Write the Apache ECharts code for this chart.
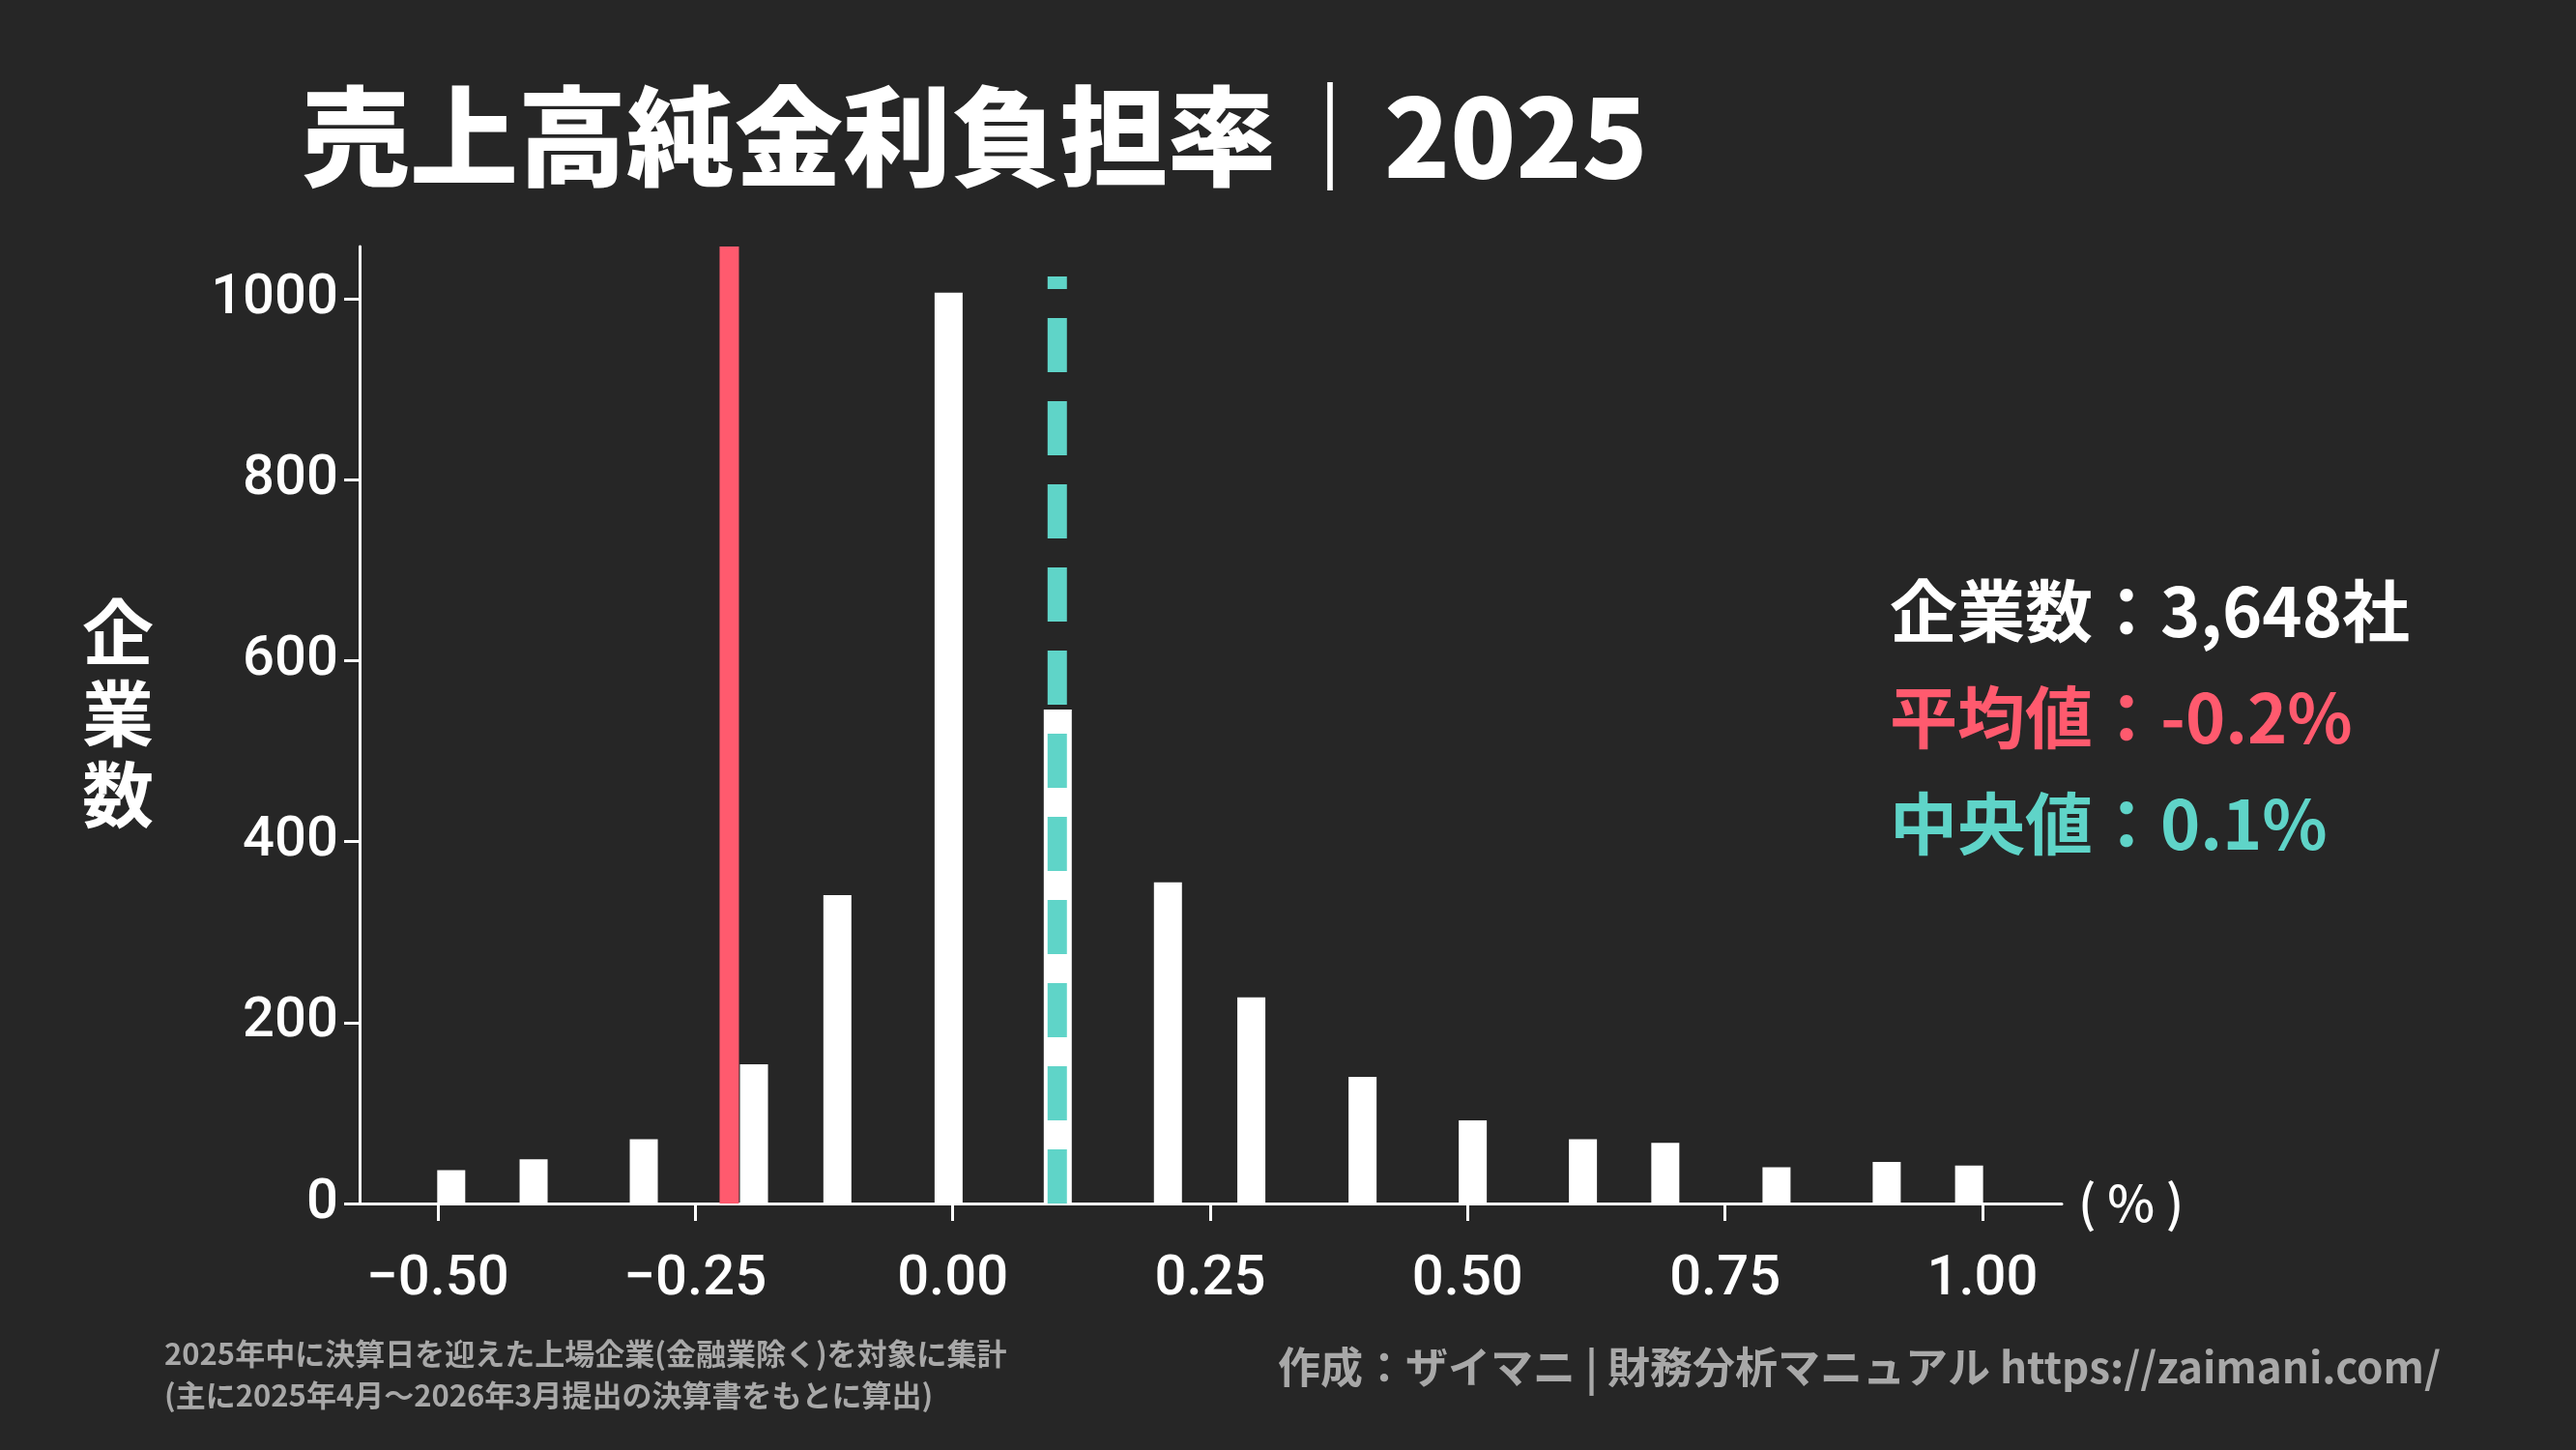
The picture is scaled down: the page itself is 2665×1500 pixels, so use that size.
<!DOCTYPE html>
<html><head><meta charset="utf-8">
<script src="https://cdn.jsdelivr.net/npm/echarts@6/dist/echarts.min.js"></script>
<style>html,body{margin:0;padding:0;background:#262626;}#c{width:2665px;height:1500px;}</style>
</head><body><div id="c"></div>
<script>
const binCenters = [-0.487,-0.407,-0.30,-0.193,-0.112,-0.004,0.102,0.209,0.29,0.398,0.505,0.612,0.692,0.80,0.907,0.987];
const counts = [37,49,71,154,341,1007,546,355,228,140,92,71,67,40,46,42];
const xTicks = [-0.5,-0.25,0,0.25,0.5,0.75,1.0];
const yTicks = [0,200,400,600,800,1000];
const meanValue = -0.217, medianValue = 0.1015;
const meanTop = 1058, medianTop = 1025;
const font = "'Noto Sans CJK JP', 'Noto Sans', sans-serif";
const chart = echarts.init(document.getElementById('c'));
chart.setOption({
  backgroundColor:'#262626',
  animation:false,
  grid:{left:372,right:532,top:255,bottom:255},
  xAxis:{type:'value',min:-0.576,max:1.077,
    axisLine:{onZero:false,lineStyle:{color:'#fff',width:3}},
    axisTick:{customValues:xTicks,length:18,lineStyle:{color:'#fff',width:3}},
    axisLabel:{customValues:xTicks,color:'#fff',fontSize:58,fontFamily:"Roboto, sans-serif",fontWeight:500,margin:50,
      formatter:v=>(v<0?'\u2212':'')+Math.abs(v).toFixed(2)},
    splitLine:{show:false}},
  yAxis:{type:'value',min:0,max:1058,position:'left',
    axisLine:{show:true,onZero:false,lineStyle:{color:'#fff',width:3}},
    axisTick:{show:true,customValues:yTicks,length:16,lineStyle:{color:'#fff',width:3}},
    axisLabel:{customValues:yTicks,color:'#fff',fontSize:58,fontFamily:"Roboto, sans-serif",fontWeight:500,margin:22,formatter:v=>String(v)},
    splitLine:{show:false}},
  series:[
    {type:'bar',data:binCenters.map((x,i)=>[x,counts[i]]),barWidth:29,itemStyle:{color:'#fff'},z:2},
    {type:'line',data:[[meanValue,0],[meanValue,meanTop]],symbol:'none',lineStyle:{color:'#ff5a6e',width:20},z:1},
    {type:'line',data:[[medianValue,0],[medianValue,medianTop]],symbol:'none',lineStyle:{color:'#5fd4c8',width:20,type:[56,30]},z:3}
  ],
  graphic:[
    {type:'text',left:312,top:85,style:{text:'売上高純金利負担率｜2025',fill:'#fff',font:"900 112px "+font}},
    {type:'text',left:85,top:612,style:{text:'企\n業\n数',fill:'#fff',font:"bold 74px "+font,lineHeight:84}},
    {type:'text',left:1955,top:597,style:{text:'企業数：3,648社',fill:'#fff',font:"bold 70px "+font}},
    {type:'text',left:1955,top:707,style:{text:'平均値：-0.2%',fill:'#ff5a6e',font:"bold 70px "+font}},
    {type:'text',left:1955,top:817,style:{text:'中央値：0.1%',fill:'#5fd4c8',font:"bold 70px "+font}},
    {type:'text',left:2150,top:1218,style:{text:'( % )',fill:'#fff',font:"500 52px "+font}},
    {type:'text',left:170,top:1385,style:{text:'2025年中に決算日を迎えた上場企業(金融業除く)を対象に集計',fill:'#a8a8a8',font:"bold 31px "+font}},
    {type:'text',left:170,top:1428,style:{text:'(主に2025年4月〜2026年3月提出の決算書をもとに算出)',fill:'#a8a8a8',font:"bold 31px "+font}},
    {type:'text',right:140,top:1392,style:{text:'作成：ザイマニ | 財務分析マニュアル https://zaimani.com/',fill:'#a8a8a8',font:"bold 44px "+font}}
  ]
});
</script></body></html>
